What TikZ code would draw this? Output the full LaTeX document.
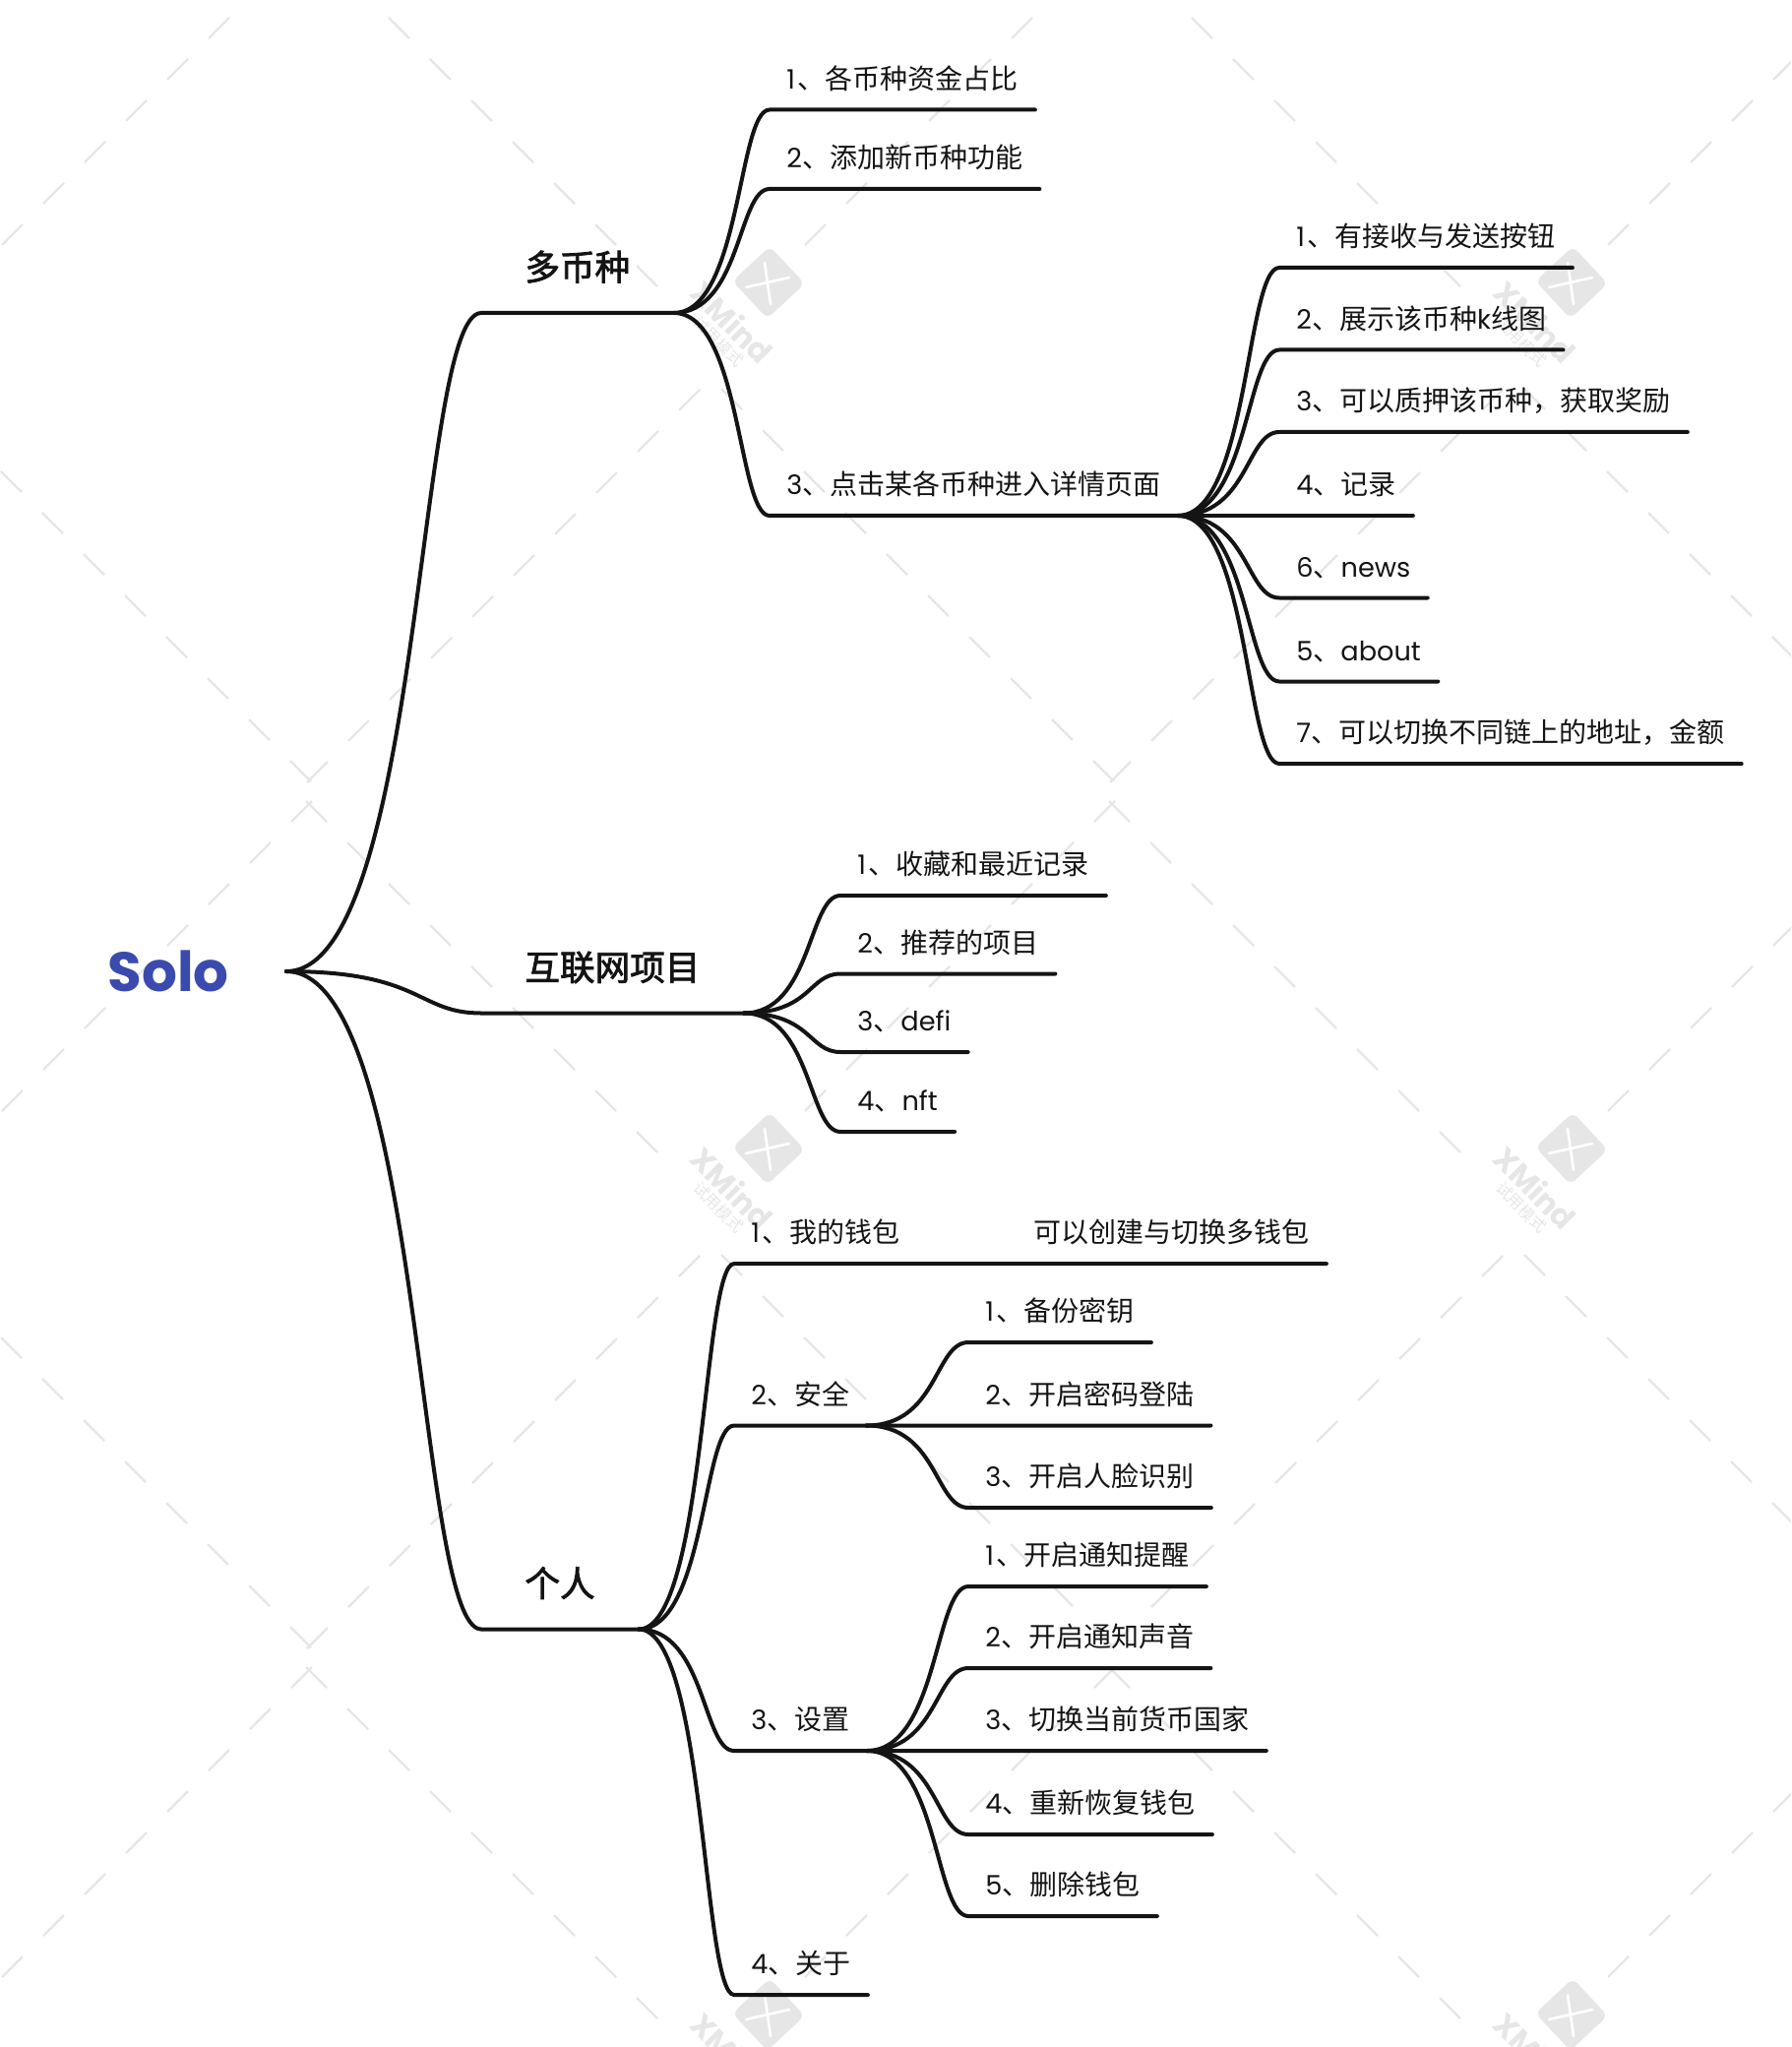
\documentclass[tikz,border=0pt]{standalone}
\usepackage{fontspec}
\usepackage{tikz}
\usetikzlibrary{calc}
\setmainfont{Noto Sans CJK SC}
\newfontfamily\latfont[Scale=0.97]{Poppins}
\newfontfamily\topicfont[FakeBold=2.2]{Noto Sans CJK SC}
\newcommand{\lat}[1]{{\latfont #1}}
\newcommand{\one}{\lat{1}\kern1.2pt}
\definecolor{ink}{HTML}{141414}
\definecolor{soloblue}{HTML}{3A4AAE}
\definecolor{wmgrey}{HTML}{E6E6E6}
\tikzset{
  leaf/.style={anchor=south west, inner xsep=8.5pt, inner ysep=7.5pt, text=ink,
    text height=11pt, text depth=3pt, font=\fontsize{14}{16}\selectfont},
  topic/.style={anchor=south west, inner xsep=22pt, inner ysep=12.5pt, text=ink,
    text height=14pt, text depth=4pt, font=\topicfont\fontsize{17.8}{20}\selectfont},
  branch/.style={draw=ink, line width=2pt, line cap=round},
  wmdash/.style={draw=wmgrey, line width=1.1pt},
}
\begin{document}
\begin{tikzpicture}[x=0.5pt,y=-0.5pt]
  \useasboundingbox (0,0) rectangle (1820,2080);
  %% watermark dashes
  \begin{scope}
    \clip (0,0) rectangle (1820,2080);
    \foreach \lx in {-36,780,1596,2412} \foreach \ly in {-593,287,1167,2047} {
      \begin{scope}[shift={(\lx,\ly)}]
        \foreach \i in {0,...,9} {
          \draw [wmdash] (-69-42*\i,109+42*\i) -- ++(-21,21);
          \draw [wmdash] (-47+42*\i,108+42*\i) -- ++(21,21);
        }
        \foreach \i in {0,...,8} \draw [wmdash] (-112-42*\i,4-42*\i) -- ++(-21,-21);
        \foreach \i in {0,...,7} \draw [wmdash] (38+42*\i,-38-42*\i) -- ++(21,-21);
      \end{scope}
    }
    %% watermark logos
    \foreach \lx in {780,1596} \foreach \ly in {287,1167,2047} {
      \begin{scope}[shift={(\lx,\ly)}]
        \node [fill=wmgrey, rounded corners=3.5pt, minimum size=26pt, inner sep=0, rotate=43] (logo\lx\ly) at (1,0) {};
        \draw [white, line width=1.3pt, line cap=round] (-3,-20) -- (3,22);
        \draw [white, line width=1.3pt, line cap=round] (-22,5) -- (22,-5);
        \node [rotate=-45, text=wmgrey, font=\latfont\bfseries\fontsize{16}{17}\selectfont] (wmx\lx\ly) at (-36,40) {XMind};
        \node [rotate=-45, text=wmgrey, font=\fontsize{8}{9}\selectfont] (wmt\lx\ly) at (-50,60) {试用模式};
      \end{scope}
    }
  \end{scope}

  \node [minimum width=119.5pt, inner sep=0, text=soloblue, font=\latfont\bfseries\fontsize{29}{31}\selectfont] (solo) at (171,987) {Solo};

  \node [topic] (multi) at (489,318) {多币种};
  \node [topic] (web) at (489,1029.5) {互联网项目};
  \node [topic] (self) at (489,1655.5) {个人};

  \node [leaf] (m1) at (782,111.5) {\one、各币种资金占比};
  \node [leaf] (m2) at (782,192) {\lat{2}、添加新币种功能};
  \node [leaf] (m3) at (782,524) {\lat{3}、点击某各币种进入详情页面};

  \node [leaf] (d1) at (1300,272) {\one、有接收与发送按钮};
  \node [leaf] (d2) at (1300,355.5) {\lat{2}、展示该币种\lat{k}线图};
  \node [leaf] (d3) at (1300,439) {\lat{3}、可以质押该币种，获取奖励};
  \node [leaf] (d4) at (1300,524) {\lat{4}、记录};
  \node [leaf] (d6) at (1300,607.5) {\lat{6}、\lat{news}};
  \node [leaf] (d5) at (1300,692.5) {\lat{5}、\lat{about}};
  \node [leaf] (d7) at (1300,776) {\lat{7}、可以切换不同链上的地址，金额};

  \node [leaf] (w1) at (854,910) {\one、收藏和最近记录};
  \node [leaf] (w2) at (854,989.5) {\lat{2}、推荐的项目};
  \node [leaf] (w3) at (854,1069) {\lat{3}、\lat{defi}};
  \node [leaf] (w4) at (854,1150) {\lat{4}、\lat{nft}};

  \node [leaf] (s1) at (746,1284) {\one、我的钱包\hspace{68pt}可以创建与切换多钱包};
  \node [leaf] (s2) at (746,1448.5) {\lat{2}、安全};
  \node [leaf] (s3) at (746,1779) {\lat{3}、设置};
  \node [leaf] (s4) at (746,2027) {\lat{4}、关于};

  \node [leaf] (k1) at (984,1364) {\one、备份密钥};
  \node [leaf] (k2) at (984,1448.5) {\lat{2}、开启密码登陆};
  \node [leaf] (k3) at (984,1532) {\lat{3}、开启人脸识别};

  \node [leaf] (c1) at (984,1612) {\one、开启通知提醒};
  \node [leaf] (c2) at (984,1695) {\lat{2}、开启通知声音};
  \node [leaf] (c3) at (984,1779) {\lat{3}、切换当前货币国家};
  \node [leaf] (c4) at (984,1864) {\lat{4}、重新恢复钱包};
  \node [leaf] (c5) at (984,1947) {\lat{5}、删除钱包};

  %% every connector leaves flat and ends flat on the child's underline
  \foreach \p/\kid in {solo.east/multi, solo.east/web, solo.east/self,
      multi.south east/m1, multi.south east/m2, multi.south east/m3,
      m3.south east/d1, m3.south east/d2, m3.south east/d3, m3.south east/d4,
      m3.south east/d6, m3.south east/d5, m3.south east/d7,
      web.south east/w1, web.south east/w2, web.south east/w3, web.south east/w4,
      self.south east/s1, self.south east/s2, self.south east/s3, self.south east/s4,
      s2.south east/k1, s2.south east/k2, s2.south east/k3,
      s3.south east/c1, s3.south east/c2, s3.south east/c3, s3.south east/c4, s3.south east/c5} {
    \coordinate (from) at (\p);
    \coordinate (to) at (\kid.south west);
    \draw [branch] (from) .. controls ($(from)!0.7!(from -| to)$) and ($(to)!0.33!(to -| from)$) .. (to)
      -- (\kid.south east);
  }
\end{tikzpicture}
\end{document}
